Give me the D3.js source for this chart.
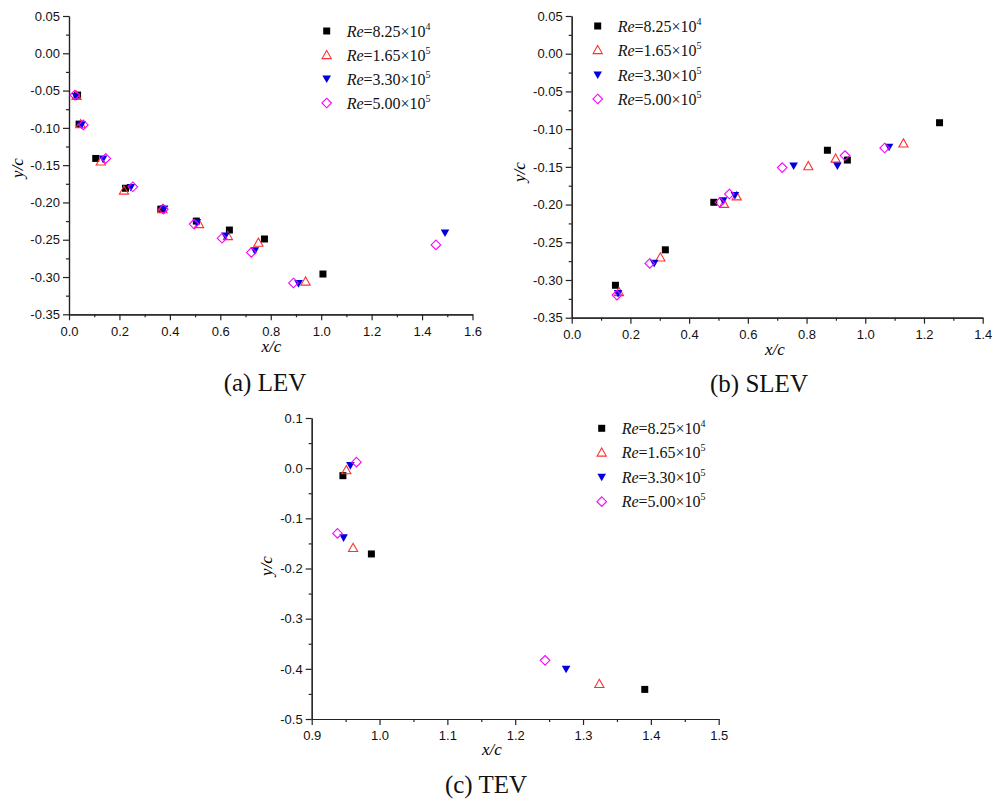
<!DOCTYPE html>
<html>
<head>
<meta charset="utf-8">
<script src="https://cdn.jsdelivr.net/npm/d3@7/dist/d3.min.js"></script>
<style>
  html, body { margin: 0; padding: 0; background: #fff; }
  svg { display: block; }
</style>
</head>
<body>
<svg id="chart" width="992" height="799"></svg>
<script>
// ---------------- DATA ----------------
const seriesNames = ["8.25", "1.65", "3.30", "5.00"];
const seriesExp = ["4", "5", "5", "5"];

// (a) LEV
const levRe1X = [0.034, 0.040, 0.106, 0.224, 0.364, 0.505, 0.636, 0.775, 1.007];
const levRe1Y = [-0.056, -0.095, -0.141, -0.181, -0.209, -0.225, -0.237, -0.249, -0.296];
const levRe2X = [0.030, 0.046, 0.126, 0.218, 0.370, 0.516, 0.630, 0.751, 0.938];
const levRe2Y = [-0.057, -0.095, -0.145, -0.184, -0.209, -0.229, -0.245, -0.254, -0.306];
const levRe3X = [0.028, 0.050, 0.135, 0.245, 0.377, 0.507, 0.620, 0.737, 0.910, 1.491];
const levRe3Y = [-0.058, -0.096, -0.142, -0.180, -0.209, -0.227, -0.245, -0.265, -0.309, -0.241];
const levRe4X = [0.023, 0.057, 0.146, 0.253, 0.374, 0.496, 0.607, 0.723, 0.890, 1.455];
const levRe4Y = [-0.056, -0.096, -0.141, -0.179, -0.209, -0.229, -0.248, -0.267, -0.308, -0.257];

// (b) SLEV
const slevRe1X = [0.149, 0.319, 0.484, 0.871, 0.939, 1.253];
const slevRe1Y = [-0.307, -0.260, -0.197, -0.128, -0.141, -0.0915];
const slevRe2X = [0.161, 0.302, 0.519, 0.562, 0.806, 0.899, 1.130];
const slevRe2Y = [-0.316, -0.270, -0.199, -0.189, -0.149, -0.139, -0.119];
const slevRe3X = [0.158, 0.281, 0.516, 0.556, 0.756, 0.905, 1.081];
const slevRe3Y = [-0.318, -0.278, -0.195, -0.188, -0.149, -0.149, -0.124];
const slevRe4X = [0.154, 0.266, 0.505, 0.537, 0.717, 0.931, 1.066];
const slevRe4Y = [-0.320, -0.278, -0.197, -0.186, -0.151, -0.135, -0.125];

// (c) TEV
const tevRe1X = [0.946, 0.988, 1.391];
const tevRe1Y = [-0.015, -0.171, -0.441];
const tevRe2X = [0.951, 0.961, 1.324];
const tevRe2Y = [-0.004, -0.159, -0.430];
const tevRe3X = [0.957, 0.947, 1.275];
const tevRe3Y = [0.005, -0.139, -0.401];
const tevRe4X = [0.966, 0.938, 1.244];
const tevRe4Y = [0.012, -0.130, -0.383];

// tick labels
const abYTicks = [0.05, 0.00, -0.05, -0.10, -0.15, -0.20, -0.25, -0.30, -0.35];
const abYLabels = ["0.05", "0.00", "-0.05", "-0.10", "-0.15", "-0.20", "-0.25", "-0.30", "-0.35"];
const aXTicks = [0, 0.2, 0.4, 0.6, 0.8, 1.0, 1.2, 1.4, 1.6];
const aXLabels = ["0.0", "0.2", "0.4", "0.6", "0.8", "1.0", "1.2", "1.4", "1.6"];
const bXTicks = [0, 0.2, 0.4, 0.6, 0.8, 1.0, 1.2, 1.4];
const bXLabels = ["0.0", "0.2", "0.4", "0.6", "0.8", "1.0", "1.2", "1.4"];
const cYTicks = [0.1, 0.0, -0.1, -0.2, -0.3, -0.4, -0.5];
const cYLabels = ["0.1", "0.0", "-0.1", "-0.2", "-0.3", "-0.4", "-0.5"];
const cXTicks = [0.9, 1.0, 1.1, 1.2, 1.3, 1.4, 1.5];
const cXLabels = ["0.9", "1.0", "1.1", "1.2", "1.3", "1.4", "1.5"];

// ---------------- STYLE / MARKERS ----------------
const colors = ["#000000", "#ff3030", "#0000dd", "#ff00ff"];
function markerPath(kind) {
  if (kind === 0) return "M-3.5,-3.5H3.5V3.5H-3.5Z";
  if (kind === 1) return "M0,-4.6L4.6,3.6L-4.6,3.6Z";
  if (kind === 2) return "M-4.3,-3.6L4.3,-3.6L0,4Z";
  return "M0,-4.8L4.8,0L0,4.8L-4.8,0Z";
}
function drawMarker(g, kind, x, y) {
  const p = g.append("path").attr("d", markerPath(kind)).attr("transform", `translate(${x},${y})`);
  if (kind === 0 || kind === 2) p.attr("fill", colors[kind]).attr("stroke", "none");
  else p.attr("fill", "none").attr("stroke", colors[kind]).attr("stroke-width", 1.1);
}

const svg = d3.select("#chart");
const tickFont = "'Liberation Sans', Arial, sans-serif";
const serif = "'Liberation Serif', 'Times New Roman', serif";

function panel(cfg) {
  const x = d3.scaleLinear().domain(cfg.xDomain).range(cfg.xRange);
  const y = d3.scaleLinear().domain(cfg.yDomain).range(cfg.yRange);
  const g = svg.append("g");

  // minor ticks
  const xMinor = d3.axisBottom(x).tickValues(cfg.xMinor).tickSize(3).tickFormat("").tickSizeOuter(0);
  const yMinor = d3.axisLeft(y).tickValues(cfg.yMinor).tickSize(3).tickFormat("").tickSizeOuter(0);
  g.append("g").attr("transform", `translate(0,${cfg.yRange[0]})`).call(xMinor);
  g.append("g").attr("transform", `translate(${cfg.xRange[0]},0)`).call(yMinor);

  const xAxis = d3.axisBottom(x).tickValues(cfg.xTicks)
    .tickFormat((d, i) => cfg.xLabels[i]).tickSize(6).tickPadding(6).tickSizeOuter(0);
  const yAxis = d3.axisLeft(y).tickValues(cfg.yTicks)
    .tickFormat((d, i) => cfg.yLabels[i]).tickSize(6).tickPadding(3).tickSizeOuter(0);
  g.append("g").attr("transform", `translate(0,${cfg.yRange[0]})`).call(xAxis);
  g.append("g").attr("transform", `translate(${cfg.xRange[0]},0)`).call(yAxis);

  g.selectAll(".tick text").attr("font-family", tickFont).attr("font-size", 13).attr("fill", "#111");
  g.selectAll(".domain, .tick line").attr("stroke", "#222").attr("stroke-width", 1.2);

  // points
  cfg.series.forEach((s, k) => {
    s.x.forEach((xv, i) => drawMarker(g, k, x(xv), y(s.y[i])));
  });

  // axis labels
  const xl = g.append("text").attr("x", cfg.xLabelPos[0]).attr("y", cfg.xLabelPos[1])
    .attr("text-anchor", "middle").attr("font-family", serif).attr("font-size", 17).attr("font-style", "italic");
  xl.text("x/c");
  g.append("text").attr("transform", `translate(${cfg.yLabelPos[0]},${cfg.yLabelPos[1]}) rotate(-90)`)
    .attr("text-anchor", "middle").attr("font-family", serif).attr("font-size", 17).attr("font-style", "italic")
    .text("y/c");

  // legend
  seriesNames.forEach((nm, k) => {
    const ry = cfg.legendY[k];
    drawMarker(g, k, cfg.legendX, ry);
    const t = g.append("text").attr("x", cfg.legendX + 20).attr("y", ry + 5.5)
      .attr("font-family", serif).attr("font-size", 16).attr("fill", "#111");
    t.append("tspan").attr("font-style", "italic").text("Re");
    t.append("tspan").text("=" + nm + "×10");
    t.append("tspan").attr("font-size", 10).attr("dy", -7).text(seriesExp[k]);
  });

  // title
  g.append("text").attr("x", cfg.titlePos[0]).attr("y", cfg.titlePos[1]).attr("text-anchor", "middle")
    .attr("font-family", serif).attr("font-size", 25).attr("fill", "#111").text(cfg.title);
}

function range(a, b, step) { const out = []; for (let v = a; v <= b + 1e-9; v += step) out.push(+v.toFixed(4)); return out; }

panel({
  xDomain: [0, 1.6], xRange: [69, 472.5],
  yDomain: [-0.35, 0.05], yRange: [314.3, 16],
  xTicks: aXTicks, xLabels: aXLabels, yTicks: abYTicks, yLabels: abYLabels,
  xMinor: range(0.1, 1.5, 0.2), yMinor: range(-0.325, 0.025, 0.05),
  series: [{x: levRe1X, y: levRe1Y}, {x: levRe2X, y: levRe2Y}, {x: levRe3X, y: levRe3Y}, {x: levRe4X, y: levRe4Y}],
  xLabelPos: [271.5, 352], yLabelPos: [23, 168],
  legendX: 326.7, legendY: [31, 55, 79, 103],
  titlePos: [265, 391], title: "(a) LEV"
});

panel({
  xDomain: [0, 1.4], xRange: [571.7, 982.7],
  yDomain: [-0.35, 0.05], yRange: [317.7, 16],
  xTicks: bXTicks, xLabels: bXLabels, yTicks: abYTicks, yLabels: abYLabels,
  xMinor: range(0.1, 1.3, 0.2), yMinor: range(-0.325, 0.025, 0.05),
  series: [{x: slevRe1X, y: slevRe1Y}, {x: slevRe2X, y: slevRe2Y}, {x: slevRe3X, y: slevRe3Y}, {x: slevRe4X, y: slevRe4Y}],
  xLabelPos: [775, 355], yLabelPos: [525, 172],
  legendX: 597.7, legendY: [26, 50, 75, 99],
  titlePos: [759, 392], title: "(b) SLEV"
});

panel({
  xDomain: [0.9, 1.5], xRange: [311.7, 718.7],
  yDomain: [-0.5, 0.1], yRange: [719, 418],
  xTicks: cXTicks, xLabels: cXLabels, yTicks: cYTicks, yLabels: cYLabels,
  xMinor: range(0.95, 1.45, 0.1), yMinor: range(-0.45, 0.05, 0.1),
  series: [{x: tevRe1X, y: tevRe1Y}, {x: tevRe2X, y: tevRe2Y}, {x: tevRe3X, y: tevRe3Y}, {x: tevRe4X, y: tevRe4Y}],
  xLabelPos: [492, 755], yLabelPos: [272, 566],
  legendX: 601.7, legendY: [428.3, 452.5, 477.3, 501.7],
  titlePos: [486, 793], title: "(c) TEV"
});
</script>
</body>
</html>
